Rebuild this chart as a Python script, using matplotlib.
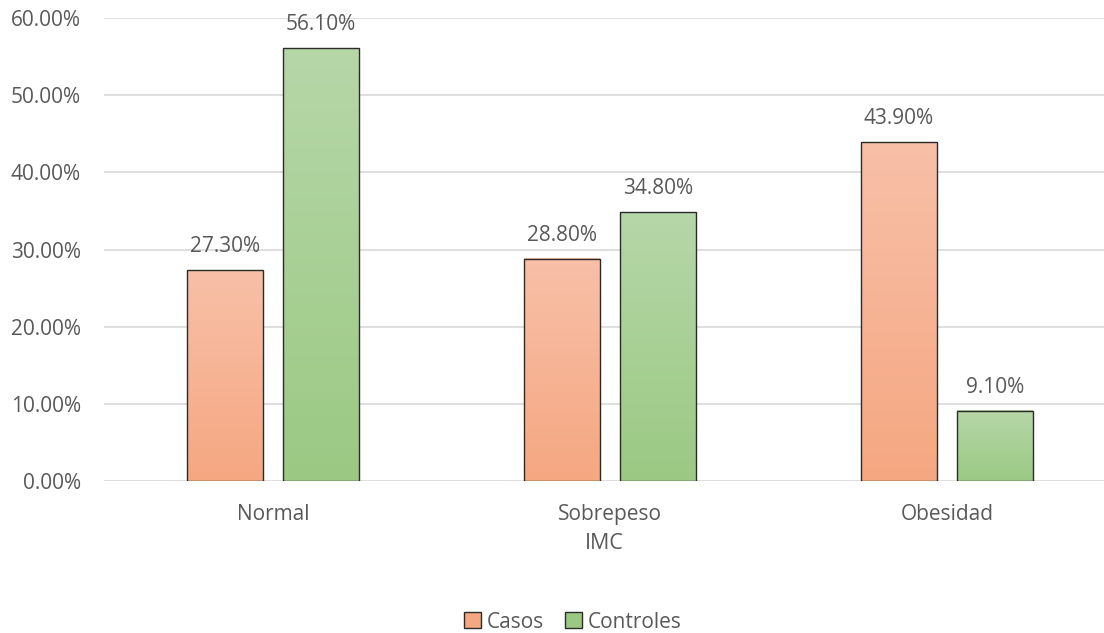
import numpy as np
import matplotlib
matplotlib.use("Agg")
import matplotlib.pyplot as plt
from matplotlib.colors import LinearSegmentedColormap
from matplotlib.patches import Patch

categories = ["Normal", "Sobrepeso", "Obesidad"]
series_names = ["Casos", "Controles"]
casos = [27.3, 28.8, 43.9]
controles = [56.1, 34.8, 9.1]
yticks = [0, 10, 20, 30, 40, 50, 60]

plt.rcParams['font.family'] = ['Open Sans', 'DejaVu Sans']
txt = '#595959'
fs = 15

fig = plt.figure(figsize=(11.04, 6.33), dpi=100)
ax = fig.add_axes([104/1104, 1-481/633, 1-104/1104, (481-18)/633])

x = np.arange(len(categories))
w = 0.225
off = 0.1425
grads = {
    "Casos": ((0.973, 0.753, 0.659), (0.961, 0.655, 0.506)),
    "Controles": ((0.714, 0.843, 0.659), (0.608, 0.788, 0.514)),
}
series = [(casos, -off, "Casos"), (controles, off, "Controles")]
for vals, o, name in series:
    top_c, bot_c = grads[name]
    cmap = LinearSegmentedColormap.from_list(name, [bot_c, top_c])
    bars = ax.bar(x + o, vals, width=w, facecolor='none', edgecolor='#2b2b2b', linewidth=1.0, zorder=3)
    for b, v in zip(bars, vals):
        x0 = b.get_x()
        grad = np.linspace(0, 1, 256).reshape(-1, 1)
        ax.imshow(grad, extent=(x0, x0 + w, 0, v), origin='lower', cmap=cmap,
                  aspect='auto', zorder=2)
        ax.annotate(f"{v:.2f}%", (x0 + w/2, v), xytext=(0, 13), textcoords='offset points',
                    ha='center', va='baseline', fontsize=fs, color=txt)

ax.set_xlim(-0.501, 2.466)
ax.set_ylim(0, 60)
ax.set_yticks(yticks)
ax.set_yticklabels([f"{t:.2f}%" for t in yticks])
ax.set_xticks(x)
ax.set_xticklabels(categories)
ax.grid(axis='y', color='#d9d9d9', linewidth=1.2, zorder=0)
ax.set_axisbelow(True)
for s in ax.spines.values():
    s.set_visible(False)
ax.tick_params(axis='both', length=0, labelsize=fs, labelcolor=txt)
ax.tick_params(axis='y', pad=16.5)
ax.tick_params(axis='x', pad=16.5)
ax.set_xlabel("IMC", fontsize=15.5, color=txt, labelpad=6)

handles = [Patch(facecolor=grads[n][1], edgecolor='#2b2b2b', label=n) for n in series_names]
fig.legend(handles=handles, loc='center', bbox_to_anchor=(573/1104, 1-622/633), ncol=2,
           frameon=False, fontsize=fs, handlelength=0.8, handleheight=0.8,
           handletextpad=0.3, columnspacing=1.0, labelcolor=txt)

fig.savefig("out.png", dpi=100)
